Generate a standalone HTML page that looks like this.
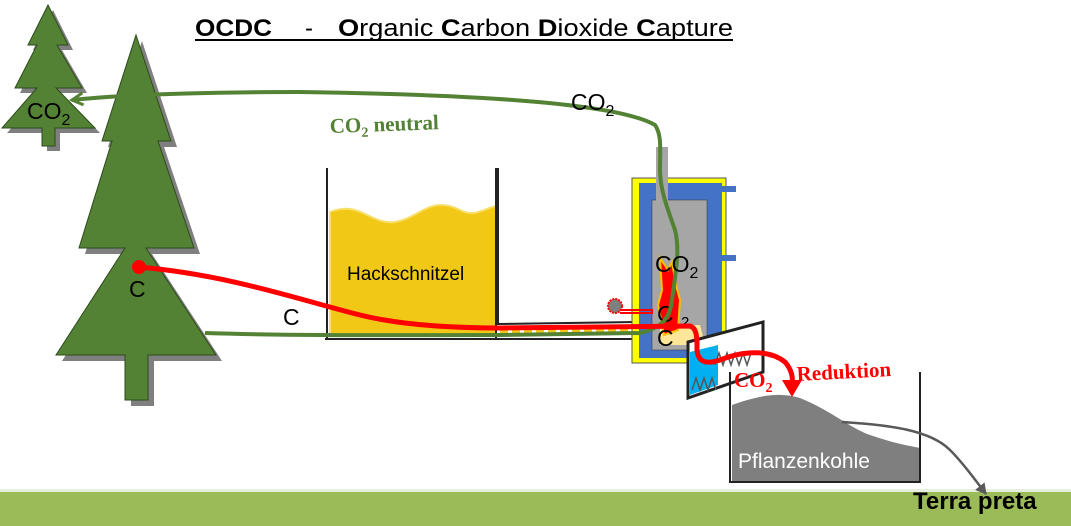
<!DOCTYPE html><html><head><style>body{margin:0;background:#fff}svg{display:block}</style></head><body>
<svg width="1071" height="526" viewBox="0 0 1071 526" xmlns="http://www.w3.org/2000/svg" font-family="Liberation Sans, sans-serif">
<defs><marker id="ag" markerUnits="userSpaceOnUse" markerWidth="16" markerHeight="16" refX="12" refY="8" orient="auto"><path d="M1,2 L12,8 L1,14" fill="none" stroke="#548235" stroke-width="3"/></marker>
<marker id="agr" markerUnits="userSpaceOnUse" markerWidth="14" markerHeight="14" refX="10" refY="7" orient="auto"><path d="M0,1 L11,7 L0,13 Z" fill="#595959"/></marker></defs>
<!-- ground -->
<rect x="0" y="492" width="1071" height="34" fill="#9bbb59"/>
<rect x="0" y="489" width="1071" height="3" fill="#e6eee0"/>
<!-- small tree -->
<g transform="translate(5,5)"><path d="M48,5 L68,45 L57,45 L82,88 L56,88 L95,128 L55,128 L55,146 L42,146 L42,128 L2,128 L37,88 L15,88 L37,45 L28,45 Z" fill="#7f7f7f"/></g>
<path d="M48,5 L68,45 L57,45 L82,88 L56,88 L95,128 L55,128 L55,146 L42,146 L42,128 L2,128 L37,88 L15,88 L37,45 L28,45 Z" fill="#548235" stroke="#2d4a1c" stroke-width="1"/>
<text x="27" y="119" font-size="23" fill="#000">CO<tspan font-size="16" dy="6">2</tspan></text>
<!-- big tree -->
<g transform="translate(6,6)"><path d="M136,35 L171,141 L158,141 L194,248 L146,248 L216,355 L148,355 L148,400 L125,400 L125,355 L56,355 L125,248 L79,248 L112,141 L102,141 Z" fill="#7f7f7f"/></g>
<path d="M136,35 L171,141 L158,141 L194,248 L146,248 L216,355 L148,355 L148,400 L125,400 L125,355 L56,355 L125,248 L79,248 L112,141 L102,141 Z" fill="#548235" stroke="#2d4a1c" stroke-width="1"/>
<text x="129" y="297" font-size="23">C</text>
<!-- title -->
<text x="195" y="36" font-size="24" font-weight="bold" textLength="77" lengthAdjust="spacingAndGlyphs">OCDC</text>
<text x="305" y="36" font-size="24">-</text>
<text x="338" y="36" font-size="24" textLength="395" lengthAdjust="spacingAndGlyphs"><tspan font-weight="bold">O</tspan>rganic <tspan font-weight="bold">C</tspan>arbon <tspan font-weight="bold">D</tspan>ioxide <tspan font-weight="bold">C</tspan>apture</text>
<line x1="195" y1="40" x2="733" y2="40" stroke="#000" stroke-width="2"/>
<!-- hackschnitzel container -->
<path d="M330,212 C360,200 370,225 395,222 C420,218 430,195 460,210 C475,218 485,208 496,206 L496,336 L330,336 Z" fill="#f2c816" stroke="#f8df6a" stroke-width="2"/>
<text x="347" y="280" font-size="19" fill="#000">Hackschnitzel</text>
<line x1="327" y1="168" x2="327" y2="338" stroke="#222" stroke-width="2"/>
<line x1="496" y1="168" x2="496" y2="338" stroke="#222" stroke-width="2"/>
<path d="M498,168 L498,324 L640,322" fill="none" stroke="#222" stroke-width="2"/>
<line x1="325" y1="339" x2="640" y2="339" stroke="#222" stroke-width="2"/>
<path d="M500,332 L630,330" stroke="#f2c816" stroke-width="5" stroke-dasharray="8 4"/>
<!-- furnace -->
<rect x="632" y="178" width="94" height="185" fill="#ffff00" stroke="#555" stroke-width="1"/>
<rect x="639" y="183" width="83" height="175" fill="#4472c4"/>
<rect x="652" y="200" width="55" height="150" fill="#a6a6a6" stroke="#333" stroke-width="0.5"/>
<rect x="656" y="147" width="12" height="54" fill="#a6a6a6"/>
<rect x="722" y="186" width="14" height="6" fill="#4472c4"/>
<rect x="722" y="255" width="14" height="6" fill="#4472c4"/>
<path d="M660,325 L700,325 L705,345 L660,345 Z" fill="#ffe699"/>
<path d="M660,258 L668,270 L672,262 L676,285 L680,300 L678,330 L664,335 L658,305 L662,290 Z" fill="#ff0000" stroke="#ffc000" stroke-width="2"/>
<!-- chute -->
<path d="M688,342 L763,322 L763,372 L688,398 Z" fill="#fff" stroke="#222" stroke-width="3"/>
<path d="M690,352 L718,345 L718,385 L690,395 Z" fill="#00b0f0"/>
<path d="M692,390 l4,-12 l4,12 l4,-12 l4,12 l4,-12 l4,12 M715,365 l4,-12 l4,12 l4,-12 l4,12 l4,-12 l4,12 l4,-12 l4,12 l4,-12" fill="none" stroke="#555" stroke-width="1.5"/>
<text x="657" y="322" font-size="23">C</text><text x="681" y="327" font-size="15">2</text>
<text x="657" y="346" font-size="23">C</text>
<!-- probe -->
<circle cx="615" cy="306" r="7" fill="#7f7f7f" stroke="#ff0000" stroke-width="2" stroke-dasharray="2 1"/>
<path d="M620,310 L652,310 L652,313 L620,313" fill="none" stroke="#ff0000" stroke-width="2"/>
<!-- charcoal box -->
<path d="M732,405 C760,395 780,392 800,398 C830,410 850,428 870,435 C890,442 905,445 920,448 L920,481 L732,481 Z" fill="#7f7f7f"/>
<path d="M730,372 L730,482 L920,482 L920,372" fill="none" stroke="#222" stroke-width="2"/>
<text x="738" y="468" font-size="21" fill="#fff">Pflanzenkohle</text>
<path d="M842,422 C890,425 930,430 950,450 C965,465 975,480 986,494" fill="none" stroke="#595959" stroke-width="2.5" marker-end="url(#agr)"/>
<text x="913" y="509" font-size="24" font-weight="bold">Terra preta</text>
<!-- green CO2 path -->
<path d="M205,333 C300,336 400,335 500,335 L640,333 C660,328 670,320 672,300 C676,270 680,250 675,230 C668,210 660,190 660,170 C660,150 662,135 655,125 C620,105 500,95 300,92 C200,92 120,95 72,100" fill="none" stroke="#548235" stroke-width="4" marker-end="url(#ag)"/>
<text x="330" y="133" font-size="21" font-weight="bold" fill="#548235" font-family="Liberation Serif, serif" transform="rotate(-2 330 133)">CO<tspan font-size="14" dy="5">2</tspan><tspan dy="-5"> neutral</tspan></text>
<text x="571" y="110" font-size="23">CO<tspan font-size="16" dy="6">2</tspan></text>
<text x="655" y="272" font-size="23">CO<tspan font-size="16" dy="6">2</tspan></text>
<text x="283" y="325" font-size="23">C</text>
<!-- red C path -->
<circle cx="139" cy="267" r="7" fill="#ff0000"/>
<path d="M139,267 C230,275 300,300 360,315 C400,325 450,328 500,328 L690,326 C696,328 697,335 697,345 C696,362 705,365 720,360 C745,350 770,350 785,362 C792,370 793,378 792,383" fill="none" stroke="#ff0000" stroke-width="5"/>
<path d="M782,380 L802,380 L792,397 Z" fill="#ff0000"/>
<text x="734" y="387" font-size="21" font-weight="bold" fill="#ff0000" font-family="Liberation Serif, serif">CO<tspan font-size="14" dy="5">2</tspan></text>
<text x="797" y="381" font-size="21" font-weight="bold" fill="#ff0000" font-family="Liberation Serif, serif" transform="rotate(-3 797 381)">Reduktion</text>
</svg>
</body></html>
